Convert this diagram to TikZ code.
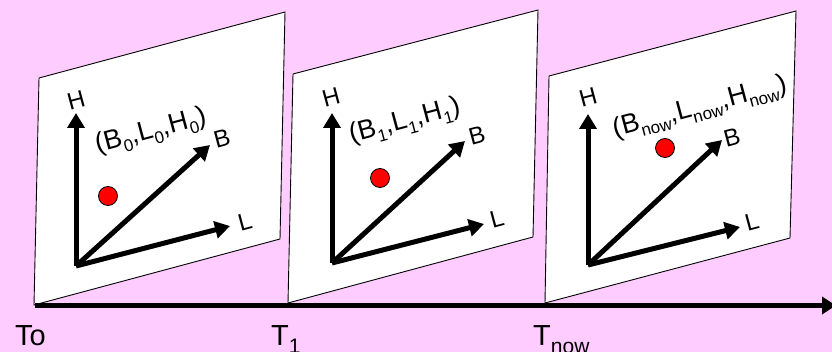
\documentclass[tikz,border=0pt]{standalone}
\usepackage{fontspec}
\setmainfont{Liberation Sans}
\usetikzlibrary{arrows.meta}
\definecolor{bgpink}{HTML}{FFCCFF}
\definecolor{dotred}{HTML}{FF0000}
\newcommand\lowsub[1]{\raisebox{-0.26em}{\fontsize{17}{17}\selectfont #1}}
\newcommand\botsub[1]{\raisebox{-0.3em}{\fontsize{21}{21}\selectfont #1}}
\tikzset{
  plane/.style={draw=black, line width=0.9pt, fill=white},
  axarrow/.style={line width=5pt, -{Triangle[length=15pt,width=17pt]}},
  timearrow/.style={line width=5pt, -{Triangle[length=14pt,width=17pt]}},
  axlabel/.style={inner sep=0pt, rotate=15, font=\fontsize{24}{24}\selectfont},
  ptlabel/.style={inner sep=0pt, rotate=15, font=\fontsize{27}{27}\selectfont},
  timelabel/.style={inner sep=0pt, anchor=base west, font=\fontsize{29}{29}\selectfont},
  reddot/.style={circle, draw=black, line width=0.8pt, fill=dotred, minimum size=19pt, inner sep=0pt}
}
\begin{document}
\begin{tikzpicture}[x=1pt, y=-1pt]
\fill[bgpink] (0,0) rectangle (832,352);
\useasboundingbox (0,0) rectangle (832,352);

% planes
\draw[plane] (39,78) -- (285,12) -- (280,239) -- (34,305) -- cycle;
\draw[plane] (293,74) -- (538,10) -- (533,237) -- (288,303) -- cycle;
\draw[plane] (549,76) -- (796,11) -- (790,238) -- (545,303) -- cycle;

% panel 1
\coordinate (o1) at (76,266);
\coordinate (h1) at (76,113);
\coordinate (b1) at (210,145);
\coordinate (l1) at (230,226);
\draw[axarrow] (o1) -- (h1);
\draw[axarrow] (o1) -- (b1);
\draw[axarrow] (o1) -- (l1);
\node[axlabel] (H1) at (76,100) {H};
\node[axlabel] (B1) at (222,138) {B};
\node[axlabel] (L1) at (245,222) {L};
\node[ptlabel] (P1) at (151,132) {(B\lowsub{0},L\lowsub{0},H\lowsub{0})};
\node[reddot] (d1) at (108,196) {};

% panel 2
\coordinate (o2) at (332,263);
\coordinate (h2) at (332,113);
\coordinate (b2) at (465,141);
\coordinate (l2) at (484,224);
\draw[axarrow] (o2) -- (h2);
\draw[axarrow] (o2) -- (b2);
\draw[axarrow] (o2) -- (l2);
\node[axlabel] (H2) at (331,97) {H};
\node[axlabel] (B2) at (477,135) {B};
\node[axlabel] (L2) at (497,219) {L};
\node[ptlabel] (P2) at (405,122) {(B\lowsub{1},L\lowsub{1},H\lowsub{1})};
\node[reddot] (d2) at (380,178) {};

% panel 3
\coordinate (o3) at (588,265);
\coordinate (h3) at (588,114);
\coordinate (b3) at (722,140);
\coordinate (l3) at (740,227);
\draw[axarrow] (o3) -- (h3);
\draw[axarrow] (o3) -- (b3);
\draw[axarrow] (o3) -- (l3);
\node[axlabel] (H3) at (588,97) {H};
\node[axlabel] (B3) at (732,137) {B};
\node[axlabel] (L3) at (752,222) {L};
\node[ptlabel] (P3) at (700,108) {(B\lowsub{now},L\lowsub{now},H\lowsub{now})};
\node[reddot] (d3) at (665,148) {};

% time axis
\coordinate (t0) at (35,305.5);
\coordinate (tend) at (836,305.5);
\draw[timearrow] (t0) -- (tend);
\node[timelabel] (To) at (15,345) {To};
\node[timelabel] (T1) at (271,345) {T\botsub{1}};
\node[timelabel] (Tn) at (533,345) {T\botsub{now}};
\end{tikzpicture}
\end{document}
